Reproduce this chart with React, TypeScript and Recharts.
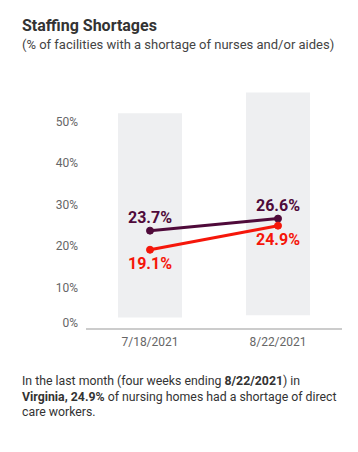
import React from "react";
import { Bar, ComposedChart, LabelList, Line, XAxis, YAxis } from "recharts";

const dates = ["7/18/2021", "8/22/2021"];
const unitedStates = [23.7, 26.6];
const virginia = [19.1, 24.9];
// light background columns behind each date (floating range)
const columnLow = [2.8, 3.3];
const columnHigh = [52, 57];
const yTicks = [0, 10, 20, 30, 40, 50];

const data = dates.map((date, i) => ({
  date,
  us: unitedStates[i],
  va: virginia[i],
  column: [columnLow[i], columnHigh[i]],
}));

const font = "Roboto, 'Noto Sans', sans-serif";

function YTick(props: any) {
  const { x, y, payload } = props;
  const lift = payload.value === 0 ? -6 : 0;
  return (
    <text
      x={x}
      y={y + lift}
      dy="0.355em"
      textAnchor="end"
      fill="#666"
      fontSize={12}
      fontFamily={font}
    >
      {payload.value}%
    </text>
  );
}

export default function App() {
  return (
    <div
      style={{
        position: "fixed",
        top: 0,
        left: 0,
        width: 358,
        height: 452,
        background: "#fff",
        fontFamily: font,
        color: "#333",
      }}
    >
      <div style={{ position: "absolute", left: 22, top: 16, fontSize: 16, fontWeight: 700 }}>
        Staffing Shortages
      </div>
      <div style={{ position: "absolute", left: 22, top: 37, fontSize: 13, color: "#444" }}>
        (% of facilities with a shortage of nurses and/or aides)
      </div>
      <div style={{ position: "absolute", left: 0, top: 0 }}>
        <ComposedChart
          width={358}
          height={360}
          data={data}
          margin={{ top: 80, right: 16, bottom: 1, left: 0 }}
        >
          <XAxis
            dataKey="date"
            height={30}
            stroke="#999"
            tickLine={false}
            tick={{ fill: "#666", fontSize: 12, fontFamily: font }}
          />
          <YAxis
            width={86}
            domain={[0, 60]}
            ticks={yTicks}
            axisLine={false}
            tickLine={false}
            tick={<YTick />}
          />
          <Bar dataKey="column" fill="#eeeff1" barSize={64} isAnimationActive={false} />
          <Line
            dataKey="us"
            stroke="#4f0a3a"
            strokeWidth={3}
            dot={{ r: 3.5, fill: "#4f0a3a", stroke: "#4f0a3a", strokeWidth: 1 }}
            isAnimationActive={false}
          >
            <LabelList
              dataKey="us"
              position="top"
              offset={8}
              formatter={(v: any) => `${v}%`}
              fill="#4f0a3a"
              fontSize={16}
              fontWeight={700}
              fontFamily={font}
            />
          </Line>
          <Line
            dataKey="va"
            stroke="#f5160a"
            strokeWidth={3}
            dot={{ r: 3.5, fill: "#f5160a", stroke: "#f5160a", strokeWidth: 1 }}
            isAnimationActive={false}
          >
            <LabelList
              dataKey="va"
              position="bottom"
              offset={8}
              formatter={(v: any) => `${v}%`}
              fill="#f5160a"
              fontSize={16}
              fontWeight={700}
              fontFamily={font}
            />
          </Line>
        </ComposedChart>
      </div>
      <div
        style={{
          position: "absolute",
          left: 22,
          top: 374,
          fontSize: 12.3,
          lineHeight: "15.5px",
          color: "#333",
          whiteSpace: "nowrap",
        }}
      >
        In the last month (four weeks ending <b>8/22/2021</b>) in
        <br />
        <b>Virginia, 24.9%</b> of nursing homes had a shortage of direct
        <br />
        care workers.
      </div>
    </div>
  );
}
